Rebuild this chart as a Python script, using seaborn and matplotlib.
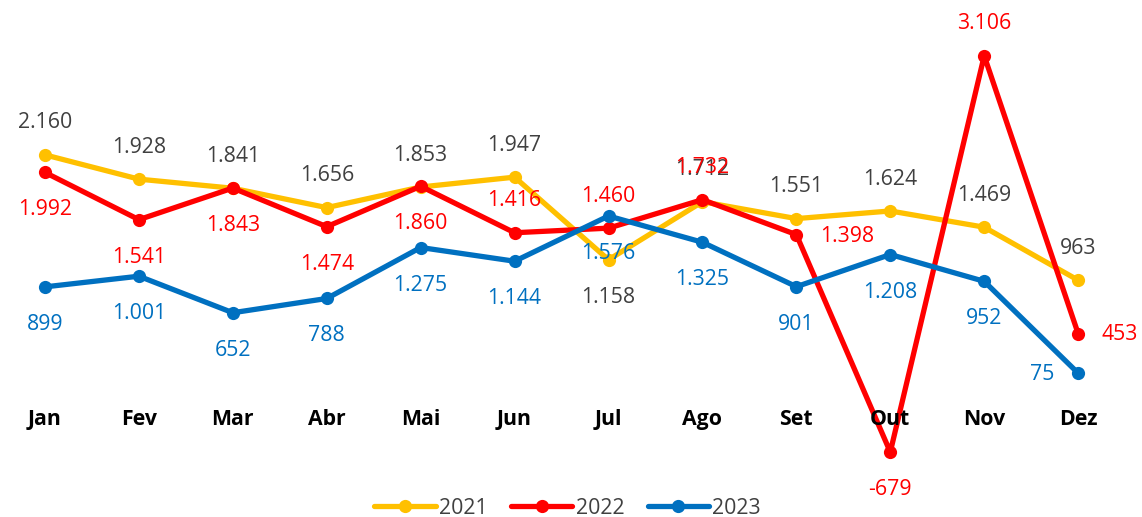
import matplotlib
matplotlib.use("Agg")
import matplotlib.pyplot as plt
from matplotlib.lines import Line2D
import seaborn as sns
import pandas as pd

months = ["Jan", "Fev", "Mar", "Abr", "Mai", "Jun", "Jul", "Ago", "Set", "Out", "Nov", "Dez"]
years = ["2021", "2022", "2023"]
values_2021 = [2160, 1928, 1841, 1656, 1853, 1947, 1158, 1712, 1551, 1624, 1469, 963]
values_2022 = [1992, 1541, 1843, 1474, 1860, 1416, 1460, 1732, 1398, -679, 3106, 453]
values_2023 = [899, 1001, 652, 788, 1275, 1144, 1576, 1325, 901, 1208, 952, 75]

# where each data label sits relative to its point
pos_2021 = ["a", "a", "a", "a", "a", "a", "b", "a", "a", "a", "a", "a"]
pos_2022 = ["b", "b", "b", "b", "b", "a", "a", "a", "r", "b", "a", "r"]
pos_2023 = ["b", "b", "b", "b", "b", "b", "b", "b", "b", "b", "b", "l"]

line_colors = {"2021": "#FFC000", "2022": "#FF0000", "2023": "#0070C0"}
label_colors = {"2021": "#404040", "2022": "#FF0000", "2023": "#0070C0"}

series = {"2021": values_2021, "2022": values_2022, "2023": values_2023}
positions = {"2021": pos_2021, "2022": pos_2022, "2023": pos_2023}

df = pd.DataFrame(
    [(i, y, v) for y in years for i, v in enumerate(series[y])],
    columns=["idx", "year", "value"],
)

sns.set_theme(style="white")
plt.rcParams["font.family"] = ["Open Sans", "DejaVu Sans"]

FS = 15.3

fig = plt.figure(figsize=(11.42, 5.17), dpi=100)
ax = fig.add_axes([0, 0, 1, 1])

for y in years:
    sns.lineplot(
        data=df[df["year"] == y], x="idx", y="value",
        color=line_colors[y], linewidth=3.8, marker="o", markersize=9.5,
        markeredgewidth=0, sort=False, ax=ax, legend=False, clip_on=False,
    )

ax.set_xlim(-0.479, 11.68)
ax.set_ylim(-1299, 3639)
ax.axis("off")


def fmt(v):
    s = f"{abs(v):,}".replace(",", ".")
    return ("-" if v < 0 else "") + s


offsets = {"a": ((0, 23), "center", "center"),
           "b": ((0, -27), "center", "center"),
           "r": ((17, -1), "left", "center"),
           "l": ((-17, -1), "right", "center")}

for y in years:
    for i, (v, p) in enumerate(zip(series[y], positions[y])):
        off, ha, va = offsets[p]
        ax.annotate(fmt(v), (i, v), xytext=off, textcoords="offset points",
                    ha=ha, va=va, fontsize=FS, color=label_colors[y],
                    annotation_clip=False)

for i, m in enumerate(months):
    ax.text(i, -370, m, ha="center", va="center", fontsize=FS,
            fontweight="bold", color="black")

handles = [Line2D([0], [0], color=line_colors[y], lw=3.8, marker="o",
                  markersize=9.5, markeredgewidth=0) for y in years]
fig.legend(handles, years, loc="lower center", bbox_to_anchor=(0.497, -0.04),
           ncol=3, frameon=False, fontsize=FS, handlelength=2.9,
           handletextpad=0.15, columnspacing=1.1, labelcolor="#404040")

fig.savefig("out.png", dpi=100)
